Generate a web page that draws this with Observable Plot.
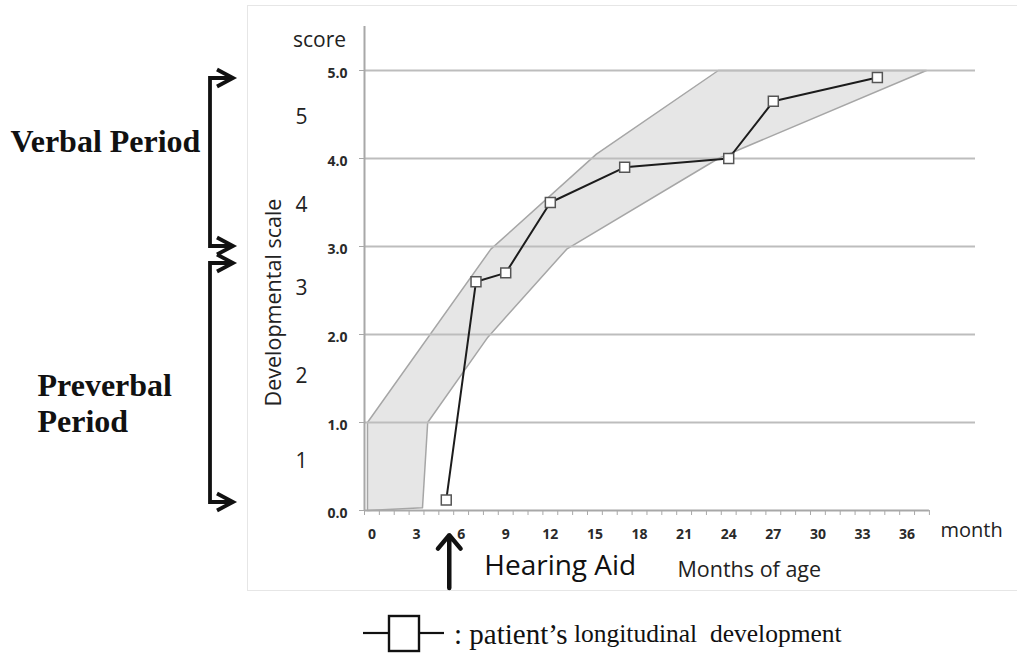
<!DOCTYPE html>
<html>
<head>
<meta charset="utf-8">
<script src="https://cdn.jsdelivr.net/npm/d3@7"></script>
<script src="https://cdn.jsdelivr.net/npm/@observablehq/plot@0.6"></script>
<style>
  body { margin: 0; background: #fff; }
  #wrap { position: relative; width: 1017px; height: 656px; overflow: hidden; }
  #frame { position: absolute; left: 247px; top: 5px; width: 790px; height: 586px; border: 1.5px solid #e6e6e6; box-sizing: border-box; }
  #chart { position: absolute; left: 0; top: 0; }
  #brackets { position: absolute; left: 0; top: 0; }
  #legend { position: absolute; left: 362px; top: 612px; height: 44px; display: flex; align-items: center; font-family: "Liberation Serif", "DejaVu Serif", serif; color: #111; white-space: pre; }
</style>
</head>
<body>
<div id="wrap">
  <div id="frame"></div>
  <div id="chart"></div>
  <svg id="brackets" width="260" height="600"></svg>
  <div id="legend">
    <svg width="84" height="44" style="margin-right:8px">
      <line x1="1" y1="21" x2="27" y2="21" stroke="#111" stroke-width="2.2"/>
      <rect x="27" y="4" width="30" height="35" fill="#fff" stroke="#111" stroke-width="2.4"/>
      <line x1="57" y1="21" x2="82" y2="21" stroke="#111" stroke-width="2.2"/>
    </svg>
    <span style="font-size:29px">: patient’s</span><span style="font-size:25.5px"> longitudinal  development</span>
  </div>
</div>
<script>
// ---- patient's longitudinal development (months of age, developmental score)
const patientMonths = [5, 7, 9, 12, 17, 24, 27, 34];
const patientScores = [0.12, 2.6, 2.7, 3.5, 3.9, 4.0, 4.65, 4.92];

// ---- normal development band (polygon outline: lower edge left->right, upper edge right->left)
const bandMonths = [-0.3, 3.4, 3.75, 7.8, 13.1, 23.3, 37.3, 23.3, 15.1, 8.0, -0.3, -0.3];
const bandScores = [0.0, 0.03, 1.0, 1.97, 2.97, 4.0, 5.0, 5.0, 4.05, 2.97, 1.0, 0.0];

// ---- axes
const yTicks = [0, 1, 2, 3, 4, 5];
const gridScores = [1, 2, 3, 4, 5];
const xTicks = [0, 3, 6, 9, 12, 15, 18, 21, 24, 27, 30, 33, 36];
const xMinorTicks = [-0.5, 0.5, 1.5, 2.5, 3.5, 4.5, 5.5, 6.5, 7.5, 8.5, 9.5, 10.5, 11.5, 12.5, 13.5, 14.5, 15.5, 16.5, 17.5, 18.5, 19.5, 20.5, 21.5, 22.5, 23.5, 24.5, 25.5, 26.5, 27.5, 28.5, 29.5, 30.5, 31.5, 32.5, 33.5, 34.5, 35.5, 36.5, 37.5];

// ---- level labels (1..5) shown between score lines
const levelLabels = ["5", "4", "3", "2", "1"];
const levelScores = [4.47, 3.47, 2.53, 1.52, 0.56];

// ---- annotations
const hearingAidMonth = [5];
const periodNames = ["Verbal Period", "Preverbal\nPeriod"];
const periodFrom = [3, 0];
const periodTo = [5, 3];

const patient = patientMonths.map((m, i) => ({month: m, score: patientScores[i]}));
const band = bandMonths.map((m, i) => ({month: m, score: bandScores[i]}));
const levels = levelLabels.map((l, i) => ({label: l, score: levelScores[i]}));

const sans = "'Open Sans', 'Noto Sans', sans-serif";
const serif = "'Liberation Serif', 'DejaVu Serif', serif";
const axisGray = "#a8a8a8";

const chart = Plot.plot({
  width: 1017,
  height: 600,
  marginLeft: 364,
  marginRight: 42,
  marginTop: 26,
  marginBottom: 90,
  x: {domain: [-0.5, 40.6]},
  y: {domain: [0, 5.5]},
  style: {fontFamily: sans, background: "transparent", color: "#2a2a2a", overflow: "visible"},
  marks: [
    Plot.line(band, {x: "month", y: "score", fill: "#e6e6e6", stroke: "#a6a6a6", strokeWidth: 1.5, curve: "linear"}),
    Plot.ruleY(gridScores, {stroke: "#bdbdbd", strokeWidth: 2}),
    Plot.ruleX([-0.5], {y1: 0, y2: 5.5, stroke: axisGray, strokeWidth: 2}),
    Plot.ruleY([0], {x1: -0.5, x2: 37.5, stroke: axisGray, strokeWidth: 2}),
    // tick marks
    Plot.axisY({ticks: yTicks, tickSize: 5, tickFormat: () => "", label: null, stroke: axisGray}),
    Plot.axisX({ticks: xMinorTicks, tickSize: 5, tickFormat: () => "", label: null, stroke: axisGray}),
    // tick labels
    Plot.text(yTicks, {y: d => d, text: d => d.toFixed(1), frameAnchor: "left", textAnchor: "end", lineAnchor: "middle", dx: -17, dy: 3, fontSize: 14, fontWeight: "bold", fill: "#2a2a2a"}),
    Plot.text(xTicks, {x: d => d, text: d => String(d), frameAnchor: "bottom", textAnchor: "middle", lineAnchor: "middle", dy: 24, fontSize: 14, fontWeight: "bold", fill: "#2a2a2a"}),
    // patient series
    Plot.line(patient, {x: "month", y: "score", stroke: "#1c1c1c", strokeWidth: 2}),
    Plot.dot(patient, {x: "month", y: "score", symbol: "square", r: 5.6, fill: "#fff", stroke: "#555", strokeWidth: 1.5}),
    // axis titles
    Plot.text(["score"], {frameAnchor: "top-left", textAnchor: "middle", lineAnchor: "middle", dx: -45, dy: 14, fontSize: 21, fill: "#222"}),
    Plot.text(["month"], {frameAnchor: "bottom-right", textAnchor: "start", lineAnchor: "middle", dx: -35, dy: 20, fontSize: 20, fill: "#222"}),
    Plot.text(["Developmental scale"], {frameAnchor: "left", textAnchor: "middle", lineAnchor: "middle", dx: -90, dy: 34, rotate: -90, fontSize: 21.5, fill: "#222"}),
    Plot.text(["Months of age"], {frameAnchor: "bottom-left", textAnchor: "start", lineAnchor: "middle", dx: 313, dy: 60, fontSize: 21.5, fill: "#222"}),
    // level numbers
    Plot.text(levels, {y: "score", text: "label", frameAnchor: "left", textAnchor: "middle", lineAnchor: "middle", dx: -63, fontSize: 21, fill: "#222"}),
    // hearing aid
    Plot.arrow(hearingAidMonth, {x: d => d, y1: -0.88, y2: -0.28, dx: 3, stroke: "#111", strokeWidth: 4.5, headLength: 17, headAngle: 80}),
    Plot.text(hearingAidMonth, {x: d => d, frameAnchor: "bottom", text: () => "Hearing Aid", textAnchor: "start", lineAnchor: "middle", dx: 38, dy: 56, fontSize: 28, fill: "#111"}),
    // period names (left margin)
    Plot.text([periodNames[0]], {frameAnchor: "top-left", textAnchor: "start", lineAnchor: "middle", dx: -354, dy: 115, fontFamily: serif, fontWeight: "bold", fontSize: 32, fill: "#111"}),
    Plot.text([periodNames[1]], {frameAnchor: "top-left", textAnchor: "start", lineAnchor: "middle", dx: -327, dy: 376, lineHeight: 1.12, fontFamily: serif, fontWeight: "bold", fontSize: 32, fill: "#111"})
  ]
});
document.getElementById("chart").appendChild(chart);

// brackets with arrows pointing at the score range of each period
const ys = chart.scale("y");
const svg = d3.select("#brackets");
const insets = [[8, 0], [17, -8]];
const bx = 210, ax = 233;
periodTo.forEach((to, i) => {
  const yTop = ys.apply(to) + insets[i][0];
  const yBot = ys.apply(periodFrom[i]) + insets[i][1];
  svg.append("path")
    .attr("d", `M${ax - 2},${yTop} H${bx} V${yBot} H${ax - 2}`)
    .attr("fill", "none").attr("stroke", "#111").attr("stroke-width", 3.8);
  [yTop, yBot].forEach(y => {
    svg.append("path")
      .attr("d", `M${ax - 16},${y - 8.5} L${ax},${y} L${ax - 16},${y + 8.5}`)
      .attr("fill", "none").attr("stroke", "#111").attr("stroke-width", 3.8).attr("stroke-linejoin", "miter");
  });
});
</script>
</body>
</html>
